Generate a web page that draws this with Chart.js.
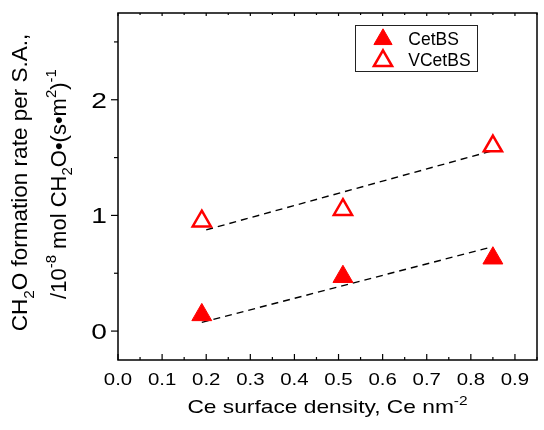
<!DOCTYPE html>
<html>
<head>
<meta charset="utf-8">
<script src="https://cdn.jsdelivr.net/npm/chart.js@4"></script>
<style>
  html, body { margin: 0; padding: 0; background: #fff; overflow: hidden; }
  #wrap { width: 544px; height: 430px; overflow: hidden; }
</style>
</head>
<body>
<div id="wrap"><canvas id="chart" width="550" height="430"></canvas></div>
<script>
// data
const ceDensity = [0.19, 0.51, 0.85];
const rateCetBS = [0.14, 0.47, 0.63];
const rateVCetBS = [0.95, 1.05, 1.60];
// dashed guide lines (end points)
const fitCetBSX = [0.19, 0.845];
const fitCetBSY = [0.075, 0.725];
const fitVCetBSX = [0.20, 0.85];
const fitVCetBSY = [0.875, 1.56];
const seriesNames = ['CetBS', 'VCetBS'];
const xRange = [0, 0.95];
const yRange = [-0.25, 2.75];
const xTicks = [0, 0.05, 0.1, 0.15, 0.2, 0.25, 0.3, 0.35, 0.4, 0.45, 0.5, 0.55, 0.6, 0.65, 0.7, 0.75, 0.8, 0.85, 0.9, 0.95];
const xTickLabels = ['0.0', '', '0.1', '', '0.2', '', '0.3', '', '0.4', '', '0.5', '', '0.6', '', '0.7', '', '0.8', '', '0.9', ''];
const yTicks = [0, 0.5, 1, 1.5, 2, 2.5];
const yTickLabels = ['0', '', '1', '', '2', ''];

const FONT = '"Liberation Sans", Arial, sans-serif';
const RED = '#ff0000';

function pts(xs, ys) {
    return xs.map((x, i) => ({ x: x, y: ys[i] }));
}

function segFont(s, size) {
    const f = s[1] === 'n' ? size : size * 0.68;
    return f + 'px ' + FONT;
}

// text with sub/superscripts, segs = [[text, 'n'|'sub'|'sup'], ...]
function drawRich(ctx, segs, x, y, size, o) {
    o = o || {};
    ctx.save();
    ctx.translate(x, y);
    if (o.rotate) ctx.rotate(-Math.PI / 2);
    ctx.scale(o.sx || 1, 1);
    ctx.fillStyle = '#000';
    ctx.textBaseline = 'alphabetic';
    ctx.textAlign = 'left';
    let w = 0;
    segs.forEach(s => { ctx.font = segFont(s, size); w += ctx.measureText(s[0]).width; });
    let cx = o.align === 'center' ? -w / 2 : (o.align === 'right' ? -w : 0);
    segs.forEach(s => {
        ctx.font = segFont(s, size);
        const dy = s[1] === 'sub' ? size * 0.28 : (s[1] === 'sup' ? -size * 0.42 : 0);
        ctx.fillText(s[0], cx, dy);
        cx += ctx.measureText(s[0]).width;
    });
    ctx.restore();
}

const axisDecor = {
    id: 'axisDecor',
    afterDraw(chart) {
        const ctx = chart.ctx;
        const a = chart.chartArea;
        const xs = chart.scales.x, ys = chart.scales.y;
        ctx.save();
        ctx.strokeStyle = '#000';
        ctx.lineWidth = 1.5;
        ctx.strokeRect(a.left, a.top, a.right - a.left, a.bottom - a.top);

        // x ticks: inward, bottom and top
        ctx.lineWidth = 1.2;
        xs.ticks.forEach((t, i) => {
            const major = xTickLabels[i] !== '';
            const px = xs.getPixelForValue(t.value);
            ctx.beginPath();
            ctx.moveTo(px, a.bottom);
            ctx.lineTo(px, a.bottom - (major ? 6 : 3));
            ctx.moveTo(px, a.top);
            ctx.lineTo(px, a.top + (major ? 3 : 2));
            ctx.stroke();
            if (major) {
                drawRich(ctx, [[xTickLabels[i], 'n']], px, 385, 17, { align: 'center', sx: 1.2 });
            }
        });

        // y ticks: outward on the left
        ys.ticks.forEach((t, i) => {
            const major = yTickLabels[i] !== '';
            const py = ys.getPixelForValue(t.value);
            ctx.beginPath();
            ctx.moveTo(a.left, py);
            ctx.lineTo(a.left - (major ? 7 : 4), py);
            ctx.stroke();
            if (major) {
                drawRich(ctx, [[yTickLabels[i], 'n']], 107, py + 7.9, 22, { align: 'right', sx: 1.28 });
            }
        });

        // axis titles
        drawRich(ctx, [['Ce surface density, Ce nm', 'n'], ['-2', 'sup']],
            (a.left + a.right) / 2, 412.5, 18.5, { align: 'center', sx: 1.23 });
        drawRich(ctx, [['CH', 'n'], ['2', 'sub'], ['O formation rate per S.A.,', 'n']],
            27.3, 182.5, 22.5, { align: 'center', rotate: true });
        drawRich(ctx, [['/10', 'n'], ['-8', 'sup'], [' mol CH', 'n'], ['2', 'sub'],
            ['O\u2022(s\u2022m', 'n'], ['2', 'sup'], [')', 'n'], ['-1', 'sup']],
            65.5, 184, 22, { align: 'center', rotate: true });

        // legend
        ctx.lineWidth = 1;
        ctx.strokeStyle = '#222';
        ctx.strokeRect(355.5, 25.5, 122, 46);
        const markY = [39.3, 60.8];
        const textY = [45, 65.7];
        [0, 1].forEach(i => {
            const ds = chart.data.datasets[i];
            ctx.fillStyle = ds.backgroundColor;
            ctx.strokeStyle = ds.borderColor;
            ctx.lineWidth = ds.borderWidth;
            Chart.helpers.drawPoint(ctx, { pointStyle: 'triangle', radius: 10.5, borderWidth: ds.borderWidth }, 383, markY[i]);
            drawRich(ctx, [[seriesNames[i], 'n']], 408.3, textY[i], 17.5, {});
        });
        ctx.restore();
    }
};

new Chart(document.getElementById('chart'), {
    type: 'scatter',
    data: {
        datasets: [{
            label: seriesNames[0],
            data: pts(ceDensity, rateCetBS),
            pointStyle: 'triangle',
            pointRadius: 11.5,
            backgroundColor: RED,
            borderColor: RED,
            borderWidth: 1,
        }, {
            label: seriesNames[1],
            data: pts(ceDensity, rateVCetBS),
            pointStyle: 'triangle',
            pointRadius: 10.5,
            backgroundColor: '#ffffff',
            borderColor: RED,
            borderWidth: 2.5,
        }, {
            label: 'fit CetBS',
            data: pts(fitCetBSX, fitCetBSY),
            showLine: true,
            borderColor: '#000',
            borderWidth: 1.4,
            borderDash: [7, 5],
            pointRadius: 0,
        }, {
            label: 'fit VCetBS',
            data: pts(fitVCetBSX, fitVCetBSY),
            showLine: true,
            borderColor: '#000',
            borderWidth: 1.4,
            borderDash: [7, 5],
            pointRadius: 0,
        }]
    },
    options: {
        responsive: false,
        animation: false,
        devicePixelRatio: 1,
        events: [],
        layout: { padding: { top: 13, right: 4, left: 0, bottom: 0 } },
        plugins: { legend: { display: false }, tooltip: { enabled: false } },
        scales: {
            x: {
                type: 'linear', min: xRange[0], max: xRange[1],
                ticks: { display: false },
                grid: { display: false }, border: { display: false },
                afterBuildTicks: s => { s.ticks = xTicks.map(v => ({ value: v })); },
                afterFit: s => { s.height = 70; }
            },
            y: {
                min: yRange[0], max: yRange[1],
                ticks: { display: false },
                grid: { display: false }, border: { display: false },
                afterBuildTicks: s => { s.ticks = yTicks.map(v => ({ value: v })); },
                afterFit: s => { s.width = 118; }
            }
        }
    },
    plugins: [axisDecor]
});
</script>
</body>
</html>
